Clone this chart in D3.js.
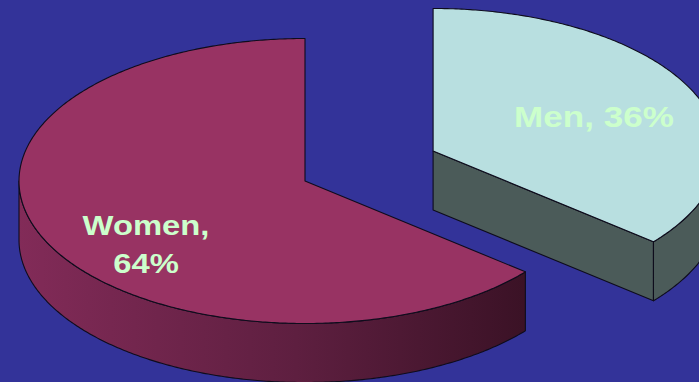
<!DOCTYPE html>
<html>
<head>
<meta charset="utf-8">
<script src="https://cdn.jsdelivr.net/npm/d3@7"></script>
<style>
  html, body { margin: 0; padding: 0; background: #333399; }
  svg { display: block; }
</style>
</head>
<body>
<svg id="chart" width="699" height="382"></svg>
<script>
// Share of respondents by sex
const categories = ["Men", "Women"];
const shares = [36, 64];
// how far each slice is pulled out of the pie, as a fraction of the radius
const explode = [0.495, 0];

// layout and look
const W = 699, H = 382;
const cx = 305, cy = 181;      // pie centre (top face)
const rx = 286, ry = 142.5;    // ellipse radii of the tilted disc
const depth = 59;              // thickness of the disc
const topFill = ["#b8dfe0", "#983363"];
const sideFill = ["#4b5b59", "url(#womenSide)"];
const labelColor = "#ccffcc";
const edge = "#0e0c1c";
const labelPos = [[594, 127], [146, 235]];
const labelSize = [30, 28.5];
const labelStretch = [1.17, 1.15];
const labelLine = 38;

const svg = d3.select("#chart");
svg.append("rect").attr("width", W).attr("height", H).attr("fill", "#333399");

const defs = svg.append("defs");
const grad = defs.append("linearGradient")
  .attr("id", "womenSide")
  .attr("gradientUnits", "userSpaceOnUse")
  .attr("x1", 19).attr("y1", 0).attr("x2", 523).attr("y2", 0);
grad.append("stop").attr("offset", "0%").attr("stop-color", "#822b58");
grad.append("stop").attr("offset", "55%").attr("stop-color", "#5e1f40");
grad.append("stop").attr("offset", "100%").attr("stop-color", "#3b1226");

const pie = d3.pie().sort(null).value(d => d);
const arcs = pie(shares).map((a, i) => {
  const mid = (a.startAngle + a.endAngle) / 2;
  return {
    ...a,
    i,
    dx: explode[i] * rx * Math.sin(mid),
    dy: -explode[i] * ry * Math.cos(mid)
  };
});

// point on the rim of a slice at pie angle t (0 = 12 o'clock, clockwise)
const rim = (s, t, z = 0) => [cx + s.dx + rx * Math.sin(t), cy + s.dy - ry * Math.cos(t) + z];
const apex = (s, z = 0) => [cx + s.dx, cy + s.dy + z];
const rimRun = (s, t0, t1, z = 0) => {
  const n = Math.max(2, Math.ceil(Math.abs(t1 - t0) / 0.01));
  return d3.range(n + 1).map(k => rim(s, t0 + (t1 - t0) * k / n, z));
};
const line = d3.line().curve(d3.curveLinear);
const closed = pts => line(pts) + "Z";

// draw slices back to front
const order = arcs.slice().sort((a, b) => (cy + a.dy) - (cy + b.dy));

order.forEach(s => {
  const g = svg.append("g");
  const faceStyle = sel => sel.attr("stroke", edge).attr("stroke-width", 1.1).attr("stroke-linejoin", "round");

  // radial cut faces that turn towards the viewer
  if (Math.sin(s.endAngle) > 1e-6) {
    g.append("path")
      .attr("d", closed([apex(s), rim(s, s.endAngle), rim(s, s.endAngle, depth), apex(s, depth)]))
      .attr("fill", sideFill[s.i]).call(faceStyle);
  }
  if (Math.sin(s.startAngle) < -1e-6) {
    g.append("path")
      .attr("d", closed([apex(s), rim(s, s.startAngle), rim(s, s.startAngle, depth), apex(s, depth)]))
      .attr("fill", sideFill[s.i]).call(faceStyle);
  }

  // outer curved wall, visible on the front half of the disc
  const a0 = Math.max(s.startAngle, Math.PI / 2);
  const a1 = Math.min(s.endAngle, 3 * Math.PI / 2);
  if (a1 > a0) {
    const pts = rimRun(s, a0, a1).concat(rimRun(s, a1, a0, depth));
    g.append("path").attr("d", closed(pts)).attr("fill", sideFill[s.i]).call(faceStyle);
  }

  // top face
  g.append("path")
    .attr("d", closed([apex(s)].concat(rimRun(s, s.startAngle, s.endAngle))))
    .attr("fill", topFill[s.i]).call(faceStyle);
});

// labels
const labels = svg.append("g")
  .attr("font-family", "'Liberation Sans', Arial, sans-serif")
  .attr("font-weight", "bold")
  .attr("fill", labelColor)
  .attr("text-anchor", "middle");

arcs.forEach(s => {
  const name = categories[s.i], pct = `${s.data}%`;
  const lines = s.i === 1 ? [`${name},`, pct] : [`${name}, ${pct}`];
  const [lx, ly] = labelPos[s.i];
  lines.forEach((t, k) => {
    labels.append("text")
      .attr("font-size", labelSize[s.i])
      .attr("transform", `translate(${lx},${ly + k * labelLine}) scale(${labelStretch[s.i]},1)`)
      .text(t);
  });
});
</script>
</body>
</html>
